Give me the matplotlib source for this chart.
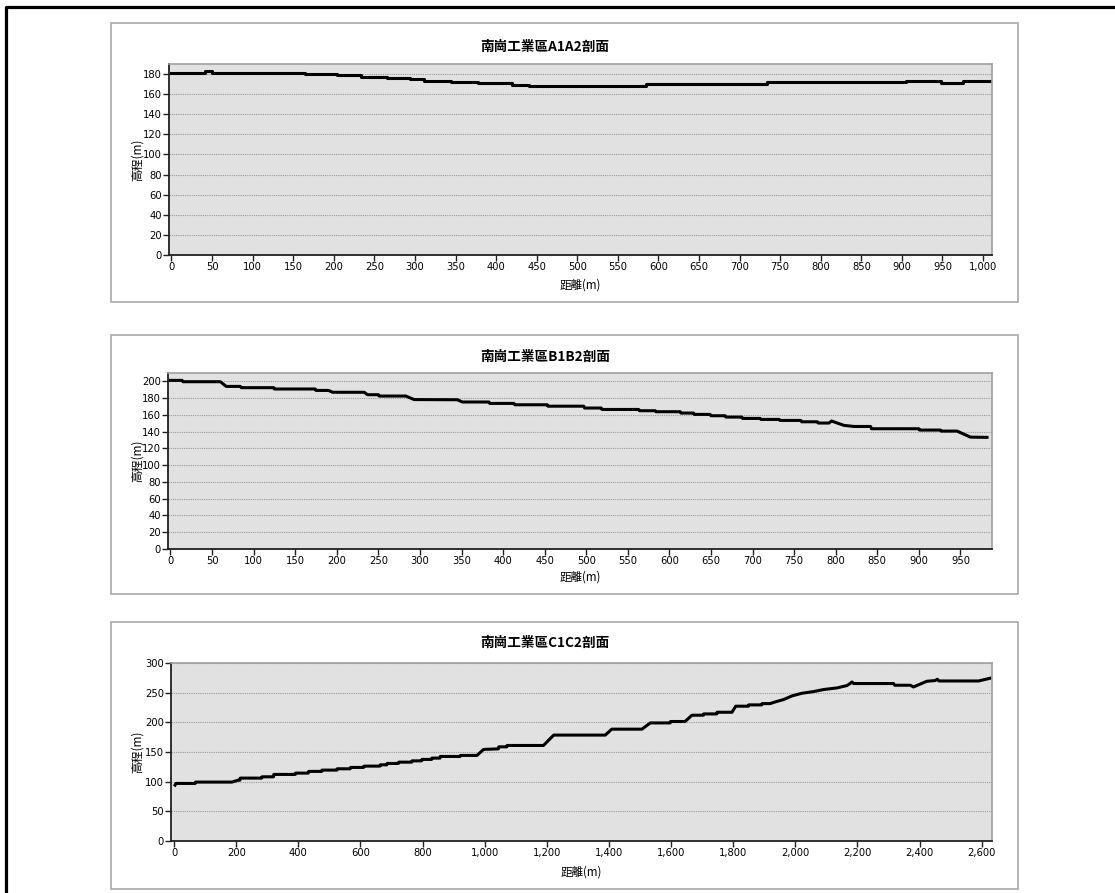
import matplotlib.pyplot as plt
from matplotlib import font_manager
from matplotlib.patches import Rectangle
from matplotlib.lines import Line2D
from matplotlib.ticker import StrMethodFormatter

# 找窄體字型給刻度用 (沒有就用 DejaVu Sans)
tick_font = None
for f in font_manager.fontManager.ttflist:
    st = str(f.stretch).lower()
    if 'narrow' in f.name.lower() or 'condensed' in f.name.lower() or 'condensed' in st:
        if f.style == 'normal' and f.weight in (400, 'normal', 'regular'):
            tick_font = f
            break
if tick_font is not None:
    tick_prop = font_manager.FontProperties(fname=tick_font.fname, size=8)
else:
    tick_prop = font_manager.FontProperties(family='DejaVu Sans', size=6.5)

CJK = ['Noto Sans CJK TC', 'DejaVu Sans']

# A1A2 剖面 (階梯)
a_dist = [0, 41, 50, 165, 204, 233, 265, 294, 311, 344, 378, 420, 440, 585, 734, 905, 948, 975, 1008]
a_elev = [181, 183, 181, 180, 178.6, 177.2, 175.9, 174.9, 173.5, 172.2, 170.9, 169.5, 168.2,
          170.2, 171.9, 173.2, 171.2, 172.9, 172.9]

# B1B2 剖面
b_dist = [0, 14, 15, 60, 67, 84, 85, 124, 125, 174, 175, 190, 195, 233, 237, 250, 251, 283,
          293, 345, 351, 383, 384, 413, 414, 453, 454, 497, 498, 518, 519, 563, 564, 583, 584,
          613, 614, 629, 630, 649, 650, 667, 668, 687, 688, 709, 710, 732, 733, 758, 759, 778,
          779, 792, 795, 810, 822, 823, 842, 843, 900, 901, 926, 927, 946, 962, 982]
b_elev = [201.2, 201.2, 199.6, 199.6, 194, 194, 192.5, 192.5, 190.9, 190.9, 189.2, 189.2, 187,
          187, 184.1, 184.1, 182.5, 182.5, 178.3, 178.1, 175.4, 175.4, 173.7, 173.7, 172.1,
          172.1, 170.4, 170.4, 168.2, 168.2, 166.5, 166.5, 165, 165, 163.8, 163.8, 162.2, 162.2,
          160.6, 160.6, 159, 159, 157.4, 157.4, 155.8, 155.8, 154.6, 154.6, 153.4, 153.4, 151.8,
          151.8, 150.3, 150.3, 152.7, 147.5, 146.2, 146.2, 146.2, 143.5, 143.5, 141.9, 141.9,
          140.7, 140.7, 133.5, 133.2]

# C1C2 剖面
c_dist = [3, 6, 68, 69, 186, 207, 212, 213, 282, 283, 320, 321, 390, 391, 432, 433, 475, 476,
          524, 525, 567, 568, 610, 611, 663, 664, 685, 686, 722, 723, 765, 766, 797, 798, 829,
          830, 856, 857, 921, 922, 975, 996, 1044, 1045, 1071, 1072, 1189, 1222, 1388, 1409,
          1506, 1533, 1597, 1598, 1645, 1667, 1704, 1705, 1747, 1748, 1796, 1808, 1849, 1850,
          1892, 1893, 1919, 1935, 1962, 1989, 2021, 2059, 2091, 2134, 2166, 2176, 2182, 2188,
          2316, 2320, 2370, 2380, 2423, 2450, 2457, 2462, 2590, 2627]
c_elev = [94.2, 97, 97, 99.3, 99.3, 102.6, 102.6, 106, 106, 108.2, 108.2, 112.2, 112.2, 114.4,
          114.4, 117.3, 117.3, 119.5, 119.5, 121.7, 121.7, 124, 124, 126.2, 126.2, 128.4, 128.4,
          130.7, 130.7, 132.9, 132.9, 135.1, 135.1, 137.5, 137.5, 139.7, 139.7, 142.5, 142.5,
          144.2, 144.2, 154.3, 155.3, 158.7, 158.7, 161, 161, 178.5, 178.5, 188.5, 188.5, 199,
          199, 201.4, 201.4, 212, 212, 214.2, 214.2, 217, 217, 227.2, 227.2, 229.4, 229.4, 231.6,
          231.6, 234.4, 238.4, 244.5, 249, 251.9, 255.3, 258, 262, 265.4, 268, 265.4, 265.4,
          262.5, 262.5, 259.6, 269.2, 270.4, 272.6, 269.7, 269.7, 274.3]

titles = ['南崗工業區A1A2剖面', '南崗工業區B1B2剖面', '南崗工業區C1C2剖面']
W, H = 1115, 893

fig = plt.figure(figsize=(W / 100, H / 100), dpi=100)


def fx(px):
    return px / W


def fy(py):
    return 1 - py / H


# 外框 (上、左)
fig.add_artist(Line2D([fx(6), fx(6), 1], [0, fy(7), fy(7)], color='black', lw=2.3,
                      transform=fig.transFigure))

panels = [
    dict(box=(111, 23, 1018, 302), ax=(169, 64, 992, 255), ty=47, ly=285,
         xlim=(-3, 1011), ylim=(0, 190), yt=range(0, 181, 20), xt=range(0, 1001, 50),
         x=a_dist, y=a_elev, steps=True),
    dict(box=(111, 335, 1018, 594), ax=(168, 373, 992, 549), ty=357, ly=577,
         xlim=(-3, 988), ylim=(0, 210), yt=range(0, 201, 20), xt=range(0, 951, 50),
         x=b_dist, y=b_elev, steps=False),
    dict(box=(111, 622, 1018, 889), ax=(171, 663, 992, 841), ty=643, ly=872,
         xlim=(-10, 2633), ylim=(0, 300), yt=range(0, 301, 50), xt=range(0, 2601, 200),
         x=c_dist, y=c_elev, steps=False),
]

for title, p in zip(titles, panels):
    x0, y0, x1, y1 = p['box']
    fig.add_artist(Rectangle((fx(x0), fy(y1)), fx(x1 - x0), (y1 - y0) / H, facecolor='white',
                             edgecolor='#a8a8a8', lw=1.2, transform=fig.transFigure, zorder=0))
    l, t, r, b = p['ax']
    ax = fig.add_axes([fx(l), fy(b), fx(r - l), (b - t) / H])
    ax.set_facecolor('#e1e1e1')
    if p['steps']:
        ax.plot(p['x'], p['y'], color='black', lw=2.2, drawstyle='steps-post')
    else:
        ax.plot(p['x'], p['y'], color='black', lw=2.2)
    ax.set_xlim(*p['xlim'])
    ax.set_ylim(*p['ylim'])
    ax.set_yticks(list(p['yt']))
    ax.set_xticks(list(p['xt']))
    ax.xaxis.set_major_formatter(StrMethodFormatter('{x:,.0f}'))
    ax.grid(axis='y', color='#9a9a9a', ls=(0, (1, 1)), lw=0.8)
    ax.set_axisbelow(True)
    for s in ('top', 'right'):
        ax.spines[s].set_color('#a0a0a0')
        ax.spines[s].set_linewidth(1.2)
    for s in ('left', 'bottom'):
        ax.spines[s].set_color('#202020')
        ax.spines[s].set_linewidth(1.3)
    ax.tick_params(length=4, width=1, color='#202020', pad=1.2)
    for lab in ax.get_xticklabels() + ax.get_yticklabels():
        lab.set_fontproperties(tick_prop)

    fig.text(fx(545), fy(p['ty']), title, ha='center', va='center', fontsize=9.8,
             fontweight='bold', family=CJK)
    fig.text(fx((l + r) / 2), fy(p['ly']), '距離(m)', ha='center', va='center', fontsize=8.3,
             family=CJK)
    fig.text(fx(137), fy((t + b) / 2), '高程(m)', ha='center', va='center', rotation=90,
             fontsize=8.5, family=CJK)

fig.savefig('out.png', dpi=100)
